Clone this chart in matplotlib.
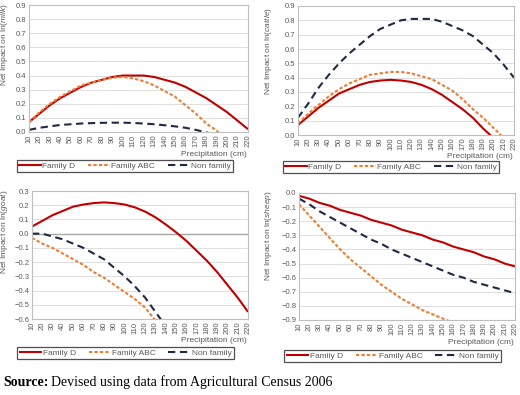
import matplotlib
matplotlib.use("Agg")
import matplotlib.pyplot as plt
from matplotlib.lines import Line2D

plt.rcParams["font.family"] = ["Liberation Sans", "DejaVu Sans"]
plt.rcParams["mathtext.fontset"] = "custom"
plt.rcParams["mathtext.it"] = "Liberation Sans:italic"
plt.rcParams["mathtext.rm"] = "Liberation Sans"

precip = list(range(10, 230, 10))
series_names = ["Family D", "Family ABC", "Non family"]

milk_D = [0.07, 0.13, 0.19, 0.24, 0.28, 0.32, 0.35, 0.37, 0.39, 0.40, 0.40,
          0.40, 0.39, 0.37, 0.35, 0.32, 0.28, 0.24, 0.19, 0.14, 0.08, 0.02]
milk_ABC = [0.07, 0.14, 0.20, 0.25, 0.29, 0.33, 0.35, 0.37, 0.385, 0.39, 0.38,
            0.36, 0.33, 0.29, 0.25, 0.19, 0.13, 0.06, 0.01, -0.07, -0.15, -0.24]
milk_NF = [0.015, 0.03, 0.04, 0.05, 0.055, 0.06, 0.063, 0.065, 0.066, 0.066, 0.064,
           0.06, 0.055, 0.048, 0.04, 0.03, 0.015, -0.003, -0.02, -0.04, -0.06, -0.08]

cattle_D = [0.07, 0.13, 0.19, 0.24, 0.29, 0.32, 0.35, 0.37, 0.38, 0.385, 0.38,
            0.37, 0.35, 0.32, 0.28, 0.23, 0.18, 0.12, 0.045, -0.02, -0.10, -0.18]
cattle_ABC = [0.08, 0.15, 0.21, 0.27, 0.32, 0.36, 0.39, 0.42, 0.43, 0.44, 0.44,
              0.43, 0.41, 0.39, 0.35, 0.31, 0.25, 0.18, 0.12, 0.05, -0.02, -0.10]
cattle_NF = [0.12, 0.22, 0.33, 0.42, 0.50, 0.57, 0.63, 0.69, 0.74, 0.77, 0.80,
             0.81, 0.81, 0.81, 0.79, 0.76, 0.73, 0.69, 0.63, 0.57, 0.49, 0.40]

goat_D = [0.05, 0.09, 0.13, 0.16, 0.19, 0.205, 0.215, 0.22, 0.215, 0.205, 0.185,
          0.155, 0.115, 0.065, 0.01, -0.05, -0.12, -0.19, -0.27, -0.36, -0.45, -0.55]
goat_ABC = [-0.03, -0.07, -0.10, -0.14, -0.18, -0.22, -0.27, -0.31, -0.36, -0.41, -0.46,
            -0.52, -0.61, -0.68, -0.76, -0.84, -0.92, -1.0, -1.1, -1.2, -1.3, -1.4]
goat_NF = [0.0, 0.0, -0.02, -0.04, -0.07, -0.10, -0.14, -0.18, -0.24, -0.30, -0.37,
           -0.45, -0.55, -0.65, -0.76, -0.88, -1.0, -1.1, -1.2, -1.3, -1.4, -1.5]

sheep_D = [-0.02, -0.04, -0.07, -0.09, -0.12, -0.14, -0.16, -0.19, -0.21, -0.23, -0.26,
           -0.28, -0.30, -0.33, -0.35, -0.38, -0.40, -0.42, -0.45, -0.47, -0.50, -0.52]
sheep_ABC = [-0.08, -0.16, -0.24, -0.32, -0.40, -0.47, -0.53, -0.59, -0.65, -0.70, -0.75,
             -0.79, -0.83, -0.86, -0.89, -0.92, -0.95, -0.98, -1.0, -1.02, -1.04, -1.06]
sheep_NF = [-0.04, -0.08, -0.13, -0.17, -0.21, -0.25, -0.29, -0.33, -0.36, -0.40, -0.43,
            -0.46, -0.49, -0.52, -0.55, -0.58, -0.60, -0.63, -0.65, -0.67, -0.69, -0.71]

colors = ["#C00000", "#ED7D31", "#1F2A44"]
dashes = [None, (1.6, 1.0), (3.5, 2.2)]
GRAY = "#595959"

W, H = 520, 395
fig = plt.figure(figsize=(W / 100, H / 100), dpi=100)


def px_axes(x0, y0, x1, y1):
    return fig.add_axes([x0 / W, 1 - y1 / H, (x1 - x0) / W, (y1 - y0) / H])


panels = [
    dict(box=(29, 5, 248, 132), data=(milk_D, milk_ABC, milk_NF), ylim=(0, 0.9),
         ticks=[i / 10 for i in range(0, 10)], animal="milk", ylab=(5, 45),
         xlab=(247, 154), leg=(23, 160, 227, 172), zero=False),
    dict(box=(298, 6, 514, 135), data=(cattle_D, cattle_ABC, cattle_NF), ylim=(0, 0.9),
         ticks=[i / 10 for i in range(0, 10)], animal="cattle", ylab=(268, 51),
         xlab=(513, 157), leg=(292, 161, 490, 173), zero=False),
    dict(box=(32, 191, 248, 319), data=(goat_D, goat_ABC, goat_NF), ylim=(-0.6, 0.3),
         ticks=[i / 10 for i in range(-6, 4)], animal="goat", ylab=(5, 232),
         xlab=(247, 341), leg=(24, 347, 227, 359), zero=True),
    dict(box=(299, 193, 515, 320), data=(sheep_D, sheep_ABC, sheep_NF), ylim=(-0.9, 0.0),
         ticks=[i / 10 for i in range(-9, 1)], animal="sheep", ylab=(268, 236),
         xlab=(514, 343), leg=(293, 350, 492, 362), zero=False),
]

for p in panels:
    ax = px_axes(*p["box"])
    for vals, c, d in zip(p["data"], colors, dashes):
        ln, = ax.plot(precip, vals, color=c, lw=1.5, solid_capstyle="butt")
        if d is not None:
            ln.set_dashes(d)
    ax.set_xlim(precip[0], precip[-1])
    ax.set_ylim(*p["ylim"])
    ax.set_yticks(p["ticks"])
    ax.set_yticklabels([f"{t:.1f}".replace("-", "\u2212") for t in p["ticks"]])
    ax.set_xticks(precip)
    ax.set_xticklabels([str(v) for v in precip], rotation=90)
    ax.tick_params(length=0, labelsize=5.5, colors=GRAY, pad=2)
    ax.grid(axis="y", color="#D9D9D9", lw=0.6)
    ax.set_axisbelow(True)
    for s in ax.spines.values():
        s.set_color("#BFBFBF")
        s.set_linewidth(0.8)
    if p["zero"]:
        ax.axhline(0, color="#A6A6A6", lw=1.0, zorder=1)
    fig.text(p["xlab"][0] / W, 1 - p["xlab"][1] / H, "Precipitation (cm)",
             ha="right", va="center", fontsize=6, color=GRAY)
    fig.text(p["ylab"][0] / W, 1 - p["ylab"][1] / H,
             "Net Impact on ln(" + r"$\mathit{" + p["animal"] + "}$" + ")",
             rotation=90, ha="center", va="center", fontsize=6, color=GRAY)
    handles = []
    for n, c, d in zip(series_names, colors, dashes):
        h = Line2D([], [], color=c, lw=1.5)
        if d is not None:
            h.set_dashes(d)
        handles.append(h)
    lx0, ly0, lx1, ly1 = p["leg"]
    leg = fig.legend(handles, series_names, loc="center",
                     bbox_to_anchor=((lx0 + lx1) / 2 / W, 1 - (ly0 + ly1) / 2 / H),
                     ncol=3, fontsize=6, frameon=True, fancybox=False,
                     edgecolor="#262626", handlelength=2.6, handletextpad=0.2,
                     columnspacing=1.5, borderpad=0.25, labelcolor=GRAY)
    leg.get_frame().set_linewidth(0.9)

src = fig.text(3 / W, 1 - 386 / H, "Source:", fontsize=10, family="Liberation Serif",
               fontweight="bold", ha="left", va="baseline")
fig.canvas.draw()
bb = src.get_window_extent(fig.canvas.get_renderer())
fig.text((bb.x1 + 3) / W, 1 - 386 / H, "Devised using data from Agricultural Census 2006",
         fontsize=10, family="Liberation Serif", ha="left", va="baseline")

fig.savefig("out.png", dpi=100)
